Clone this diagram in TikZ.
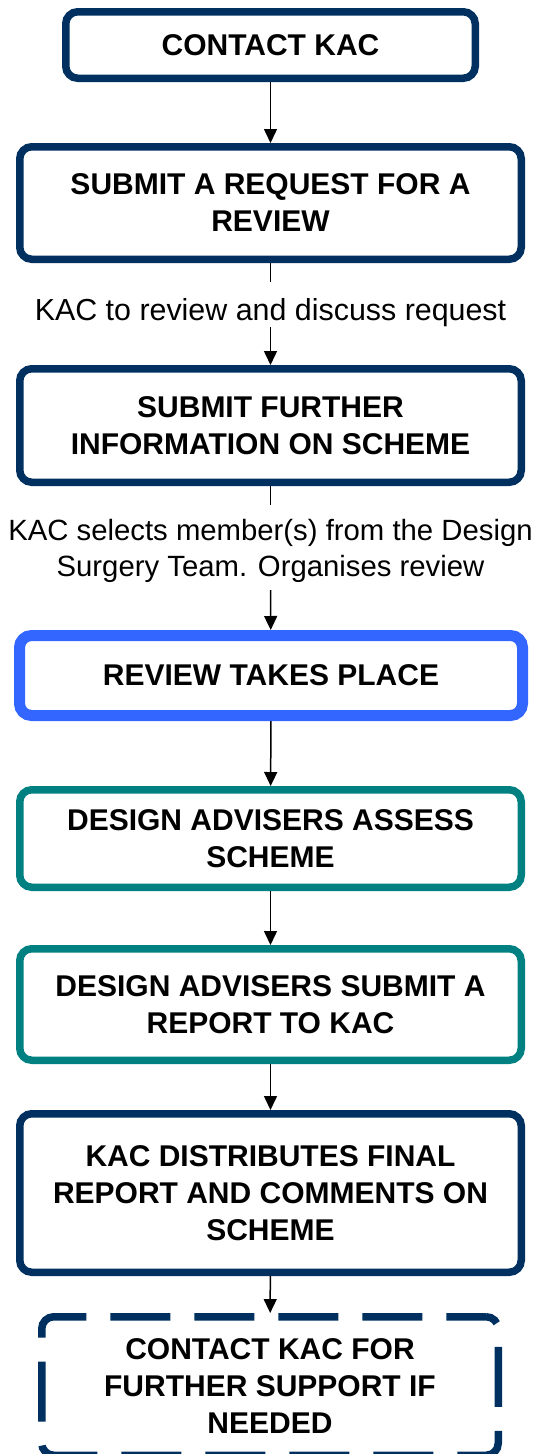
\documentclass[tikz,border=0pt]{standalone}
\usepackage{fontspec}
\setmainfont{Liberation Sans}
\usetikzlibrary{arrows.meta}
\definecolor{kacnavy}{RGB}{0,48,96}
\definecolor{kacblue}{RGB}{51,102,255}
\definecolor{kacteal}{RGB}{0,128,128}
\begin{document}
\begin{tikzpicture}[x=1pt,y=-1pt,
    box/.style={draw=kacnavy,line width=7.5pt,rounded corners=12pt,align=center,inner sep=0pt,
      font=\fontsize{30}{37}\selectfont\bfseries},
    note/.style={align=center,inner sep=0pt,font=\fontsize{30.4}{36}\selectfont},
    link/.style={line width=1.5pt},
    arr/.style={line width=1.5pt,-{Triangle[width=13pt,length=14pt]}}]
        \useasboundingbox (0,0) rectangle (535,1454);
        \node[box,minimum width=409.5,minimum height=66.5] at (270.5,45) (contact) {CONTACT KAC};
        \node[box,minimum width=501.5,minimum height=112.5] at (270.5,203) (request) {SUBMIT A REQUEST FOR A\\REVIEW};
        \node[note] at (270.5,313) (discuss) {KAC to review and discuss request};
        \node[box,minimum width=501.5,minimum height=113.5] at (270.5,425.5) (info) {SUBMIT FURTHER\\INFORMATION ON SCHEME};
        \node[note,font=\fontsize{29.3}{36}\selectfont] at (270.5,551) (select) {KAC selects member(s) from the Design\\Surgery Team. Organises review};
        \node[box,draw=kacblue,line width=11pt,minimum width=503,minimum height=80] at (271,675.5) (review) {REVIEW TAKES PLACE};
        \node[box,draw=kacteal,minimum width=501.5,minimum height=97.5] at (270.5,838.5) (assess) {DESIGN ADVISERS ASSESS\\SCHEME};
        \node[box,draw=kacteal,minimum width=501.5,minimum height=111.5] at (270.5,1004.5) (report) {DESIGN ADVISERS SUBMIT A\\REPORT TO KAC};
        \node[box,minimum width=501.5,minimum height=158.5] at (270.5,1193) (distribute) {KAC DISTRIBUTES FINAL\\REPORT AND COMMENTS ON\\SCHEME};
        \node[box,dash pattern=on 60pt off 24pt,dash phase=20pt,minimum width=456.5,minimum height=138.5] at (270,1386) (support) {CONTACT KAC FOR\\FURTHER SUPPORT IF\\NEEDED};
        \coordinate (discusstop) at (270.5,282);
        \coordinate (discussbot) at (270.5,327);
        \coordinate (selecttop) at (270.5,505);
        \coordinate (selectbot) at (270.5,590);
        \draw[arr] (contact) -- (request);
        \draw[link] (request) -- (discusstop);
        \draw[arr] (discussbot) -- (info);
        \draw[link] (info) -- (selecttop);
        \draw[arr] (selectbot) -- (review);
        \draw[arr] (review) -- (assess);
        \draw[arr] (assess) -- (report);
        \draw[arr] (report) -- (distribute);
        \draw[arr] (distribute) -- (support);
      \end{tikzpicture}
\end{document}
